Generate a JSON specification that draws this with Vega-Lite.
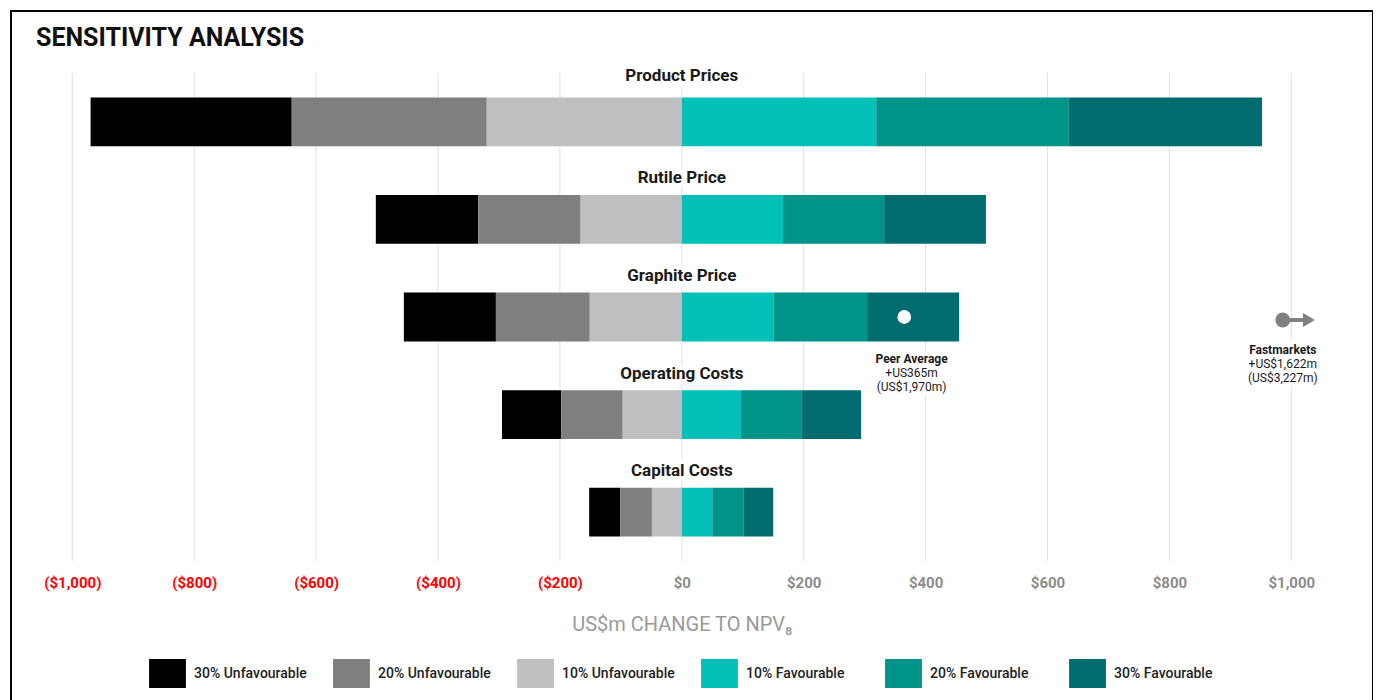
{
  "$schema": "https://vega.github.io/schema/vega-lite/v6.json",
  "width": 1362,
  "height": 700,
  "autosize": {"type": "none"},
  "padding": {"left": 11, "top": 11, "right": 0, "bottom": 0},
  "background": "white",
  "view": {"stroke": "#000000", "strokeWidth": 2},
  "title": {
    "text": "SENSITIVITY ANALYSIS",
    "anchor": "start",
    "frame": "group",
    "offset": -60,
    "dx": 25,
    "baseline": "alphabetic",
    "font": "Roboto",
    "fontSize": 25,
    "fontWeight": "bold",
    "color": "#111111"
  },
  "datasets": {
    "ticks": [
      {"v": -1000}, {"v": -800}, {"v": -600}, {"v": -400}, {"v": -200}, {"v": 0},
      {"v": 200}, {"v": 400}, {"v": 600}, {"v": 800}, {"v": 1000}
    ],
    "bars": [
      {"cat": "Product Prices", "seg": "30% Unfavourable", "start": -970, "end": -640},
      {"cat": "Product Prices", "seg": "20% Unfavourable", "start": -640, "end": -320},
      {"cat": "Product Prices", "seg": "10% Unfavourable", "start": -320, "end": 0},
      {"cat": "Product Prices", "seg": "10% Favourable", "start": 0, "end": 319},
      {"cat": "Product Prices", "seg": "20% Favourable", "start": 319, "end": 635},
      {"cat": "Product Prices", "seg": "30% Favourable", "start": 635, "end": 952},
      {"cat": "Rutile Price", "seg": "30% Unfavourable", "start": -502, "end": -334},
      {"cat": "Rutile Price", "seg": "20% Unfavourable", "start": -334, "end": -166},
      {"cat": "Rutile Price", "seg": "10% Unfavourable", "start": -166, "end": 0},
      {"cat": "Rutile Price", "seg": "10% Favourable", "start": 0, "end": 166},
      {"cat": "Rutile Price", "seg": "20% Favourable", "start": 166, "end": 332},
      {"cat": "Rutile Price", "seg": "30% Favourable", "start": 332, "end": 499},
      {"cat": "Graphite Price", "seg": "30% Unfavourable", "start": -456, "end": -305},
      {"cat": "Graphite Price", "seg": "20% Unfavourable", "start": -305, "end": -151},
      {"cat": "Graphite Price", "seg": "10% Unfavourable", "start": -151, "end": 0},
      {"cat": "Graphite Price", "seg": "10% Favourable", "start": 0, "end": 151},
      {"cat": "Graphite Price", "seg": "20% Favourable", "start": 151, "end": 304},
      {"cat": "Graphite Price", "seg": "30% Favourable", "start": 304, "end": 455},
      {"cat": "Operating Costs", "seg": "30% Unfavourable", "start": -295, "end": -198},
      {"cat": "Operating Costs", "seg": "20% Unfavourable", "start": -198, "end": -97},
      {"cat": "Operating Costs", "seg": "10% Unfavourable", "start": -97, "end": 0},
      {"cat": "Operating Costs", "seg": "10% Favourable", "start": 0, "end": 97},
      {"cat": "Operating Costs", "seg": "20% Favourable", "start": 97, "end": 196},
      {"cat": "Operating Costs", "seg": "30% Favourable", "start": 196, "end": 294},
      {"cat": "Capital Costs", "seg": "30% Unfavourable", "start": -152, "end": -101},
      {"cat": "Capital Costs", "seg": "20% Unfavourable", "start": -101, "end": -49},
      {"cat": "Capital Costs", "seg": "10% Unfavourable", "start": -49, "end": 0},
      {"cat": "Capital Costs", "seg": "10% Favourable", "start": 0, "end": 50},
      {"cat": "Capital Costs", "seg": "20% Favourable", "start": 50, "end": 101},
      {"cat": "Capital Costs", "seg": "30% Favourable", "start": 101, "end": 150}
    ],
    "topcat": [
      {"cat": "Product Prices", "x": 0}
    ],
    "cats": [
      {"cat": "Rutile Price", "x": 0},
      {"cat": "Graphite Price", "x": 0},
      {"cat": "Operating Costs", "x": 0},
      {"cat": "Capital Costs", "x": 0}
    ],
    "peer": [{"cat": "Graphite Price", "x": 365}],
    "fast": [{"cat": "Graphite Price", "x": 986, "x2": 1024, "tip": 1029}],
    "peernote": [{"cat": "Graphite Price", "x": 377, "head": "Peer Average", "body": ["+US365m", "(US$1,970m)"]}],
    "fastnote": [{"cat": "Graphite Price", "x": 986, "head": "Fastmarkets", "body": ["+US$1,622m", "(US$3,227m)"]}]
  },
  "resolve": {"scale": {"y": "independent"}},
  "layer": [
    {
      "data": {"name": "ticks"},
      "mark": {"type": "rule", "color": "#e1e1e1", "strokeWidth": 1},
      "encoding": {
        "x": {"field": "v", "type": "quantitative"},
        "y": {"datum": 0, "type": "quantitative", "scale": {"domain": [0, 1], "range": [62, 550], "nice": false, "zero": false}, "axis": null},
        "y2": {"datum": 1}
      }
    },
    {
      "layer": [
        {
          "data": {"name": "bars"},
          "mark": {"type": "bar"},
          "encoding": {
            "y": {
              "field": "cat",
              "type": "nominal",
              "scale": {
                "domain": ["Product Prices", "Rutile Price", "Graphite Price", "Operating Costs", "Capital Costs"],
                "range": [62, 550],
                "paddingInner": 0.5,
                "paddingOuter": 0.25
              },
              "axis": null
            },
            "x": {
              "field": "start",
              "type": "quantitative",
              "scale": {"domain": [-1000, 1000], "range": [61.3, 1280.3], "nice": false, "zero": false},
              "axis": {
                "values": [-1000, -800, -600, -400, -200, 0, 200, 400, 600, 800, 1000],
                "offset": -140,
                "domain": false,
                "ticks": false,
                "tickSize": 0,
                "grid": false,
                "labelPadding": 4,
                "labelFont": "Roboto",
                "labelFontSize": 15,
                "labelFontWeight": "bold",
                "labelFlush": false,
                "labelOverlap": false,
                "labelExpr": "datum.value < 0 ? '($' + format(-datum.value, ',') + ')' : '$' + format(datum.value, ',')",
                "labelColor": {"condition": {"test": "datum.value < 0", "value": "#ff0000"}, "value": "#8c8c8c"},
                "title": "US$m CHANGE TO NPV₈",
                "titleFont": "Roboto",
                "titleFontSize": 20,
                "titleFontWeight": "normal",
                "titleColor": "#9a9a9a",
                "titleY": 53,
                "titleBaseline": "middle"
              }
            },
            "x2": {"field": "end"},
            "color": {
              "field": "seg",
              "type": "nominal",
              "scale": {
                "domain": ["30% Unfavourable", "20% Unfavourable", "10% Unfavourable", "10% Favourable", "20% Favourable", "30% Favourable"],
                "range": ["#000000", "#7f7f7f", "#bfbfbf", "#00c0b8", "#00938a", "#006c70"]
              },
              "legend": {
                "orient": "none",
                "legendX": 142,
                "legendY": 648,
                "direction": "horizontal",
                "columns": 6,
                "gridAlign": "all",
                "columnPadding": 26,
                "padding": 0,
                "title": null,
                "symbolType": "M-1.27,-1H1.27V1H-1.27Z",
                "symbolSize": 841,
                "symbolStrokeWidth": 0,
                "symbolOpacity": 1,
                "labelOffset": 12,
                "labelFont": "Roboto",
                "labelFontSize": 14,
                "labelFontWeight": 500,
                "labelColor": "#222222",
                "labelLimit": 300
              }
            }
          }
        },
        {
          "data": {"name": "topcat"},
          "mark": {"type": "text", "dy": -41, "baseline": "alphabetic", "font": "Roboto", "fontSize": 17, "fontWeight": "bold", "stroke": "white", "strokeWidth": 10, "strokeJoin": "round", "fill": "white"},
          "encoding": {
            "y": {"field": "cat", "type": "nominal"},
            "x": {"field": "x", "type": "quantitative"},
            "text": {"field": "cat"}
          }
        },
        {
          "data": {"name": "topcat"},
          "mark": {"type": "text", "dy": -41, "baseline": "alphabetic", "font": "Roboto", "fontSize": 17, "fontWeight": "bold", "fill": "#1a1a1a"},
          "encoding": {
            "y": {"field": "cat", "type": "nominal"},
            "x": {"field": "x", "type": "quantitative"},
            "text": {"field": "cat"}
          }
        },
        {
          "data": {"name": "cats"},
          "mark": {"type": "text", "dy": -36, "baseline": "alphabetic", "font": "Roboto", "fontSize": 17, "fontWeight": "bold", "stroke": "white", "strokeWidth": 10, "strokeJoin": "round", "fill": "white"},
          "encoding": {
            "y": {"field": "cat", "type": "nominal"},
            "x": {"field": "x", "type": "quantitative"},
            "text": {"field": "cat"}
          }
        },
        {
          "data": {"name": "cats"},
          "mark": {"type": "text", "dy": -36, "baseline": "alphabetic", "font": "Roboto", "fontSize": 17, "fontWeight": "bold", "fill": "#1a1a1a"},
          "encoding": {
            "y": {"field": "cat", "type": "nominal"},
            "x": {"field": "x", "type": "quantitative"},
            "text": {"field": "cat"}
          }
        },
        {
          "data": {"name": "peer"},
          "mark": {"type": "point", "shape": "circle", "filled": true, "fill": "#ffffff", "opacity": 1, "size": 190, "strokeWidth": 0},
          "encoding": {
            "y": {"field": "cat", "type": "nominal"},
            "x": {"field": "x", "type": "quantitative"}
          }
        },
        {
          "data": {"name": "fast"},
          "mark": {"type": "rule", "color": "#808080", "strokeWidth": 4},
          "encoding": {
            "y": {"field": "cat", "type": "nominal"},
            "yOffset": {"value": 27.4},
            "x": {"field": "x", "type": "quantitative"},
            "x2": {"field": "x2"}
          }
        },
        {
          "data": {"name": "fast"},
          "mark": {"type": "point", "shape": "triangle-right", "filled": true, "fill": "#808080", "opacity": 1, "size": 190, "strokeWidth": 0},
          "encoding": {
            "y": {"field": "cat", "type": "nominal"},
            "yOffset": {"value": 27.4},
            "x": {"field": "tip", "type": "quantitative"}
          }
        },
        {
          "data": {"name": "fast"},
          "mark": {"type": "point", "shape": "circle", "filled": true, "fill": "#808080", "opacity": 1, "size": 220, "strokeWidth": 0},
          "encoding": {
            "y": {"field": "cat", "type": "nominal"},
            "yOffset": {"value": 27.4},
            "x": {"field": "x", "type": "quantitative"}
          }
        },
        {
          "data": {"name": "peernote"},
          "mark": {"type": "text", "dy": 46, "baseline": "alphabetic", "font": "Roboto", "fontSize": 12, "fontWeight": "bold", "fill": "white", "stroke": "white", "strokeWidth": 10, "strokeJoin": "round"},
          "encoding": {
            "y": {"field": "cat", "type": "nominal"},
            "x": {"field": "x", "type": "quantitative"},
            "text": {"field": "head"}
          }
        },
        {
          "data": {"name": "peernote"},
          "mark": {"type": "text", "dy": 60, "baseline": "alphabetic", "font": "Roboto", "fontSize": 12, "lineHeight": 14, "fill": "white", "stroke": "white", "strokeWidth": 10, "strokeJoin": "round"},
          "encoding": {
            "y": {"field": "cat", "type": "nominal"},
            "x": {"field": "x", "type": "quantitative"},
            "text": {"field": "body"}
          }
        },
        {
          "data": {"name": "fastnote"},
          "mark": {"type": "text", "dy": 37, "baseline": "alphabetic", "font": "Roboto", "fontSize": 12, "fontWeight": "bold", "fill": "white", "stroke": "white", "strokeWidth": 10, "strokeJoin": "round"},
          "encoding": {
            "y": {"field": "cat", "type": "nominal"},
            "x": {"field": "x", "type": "quantitative"},
            "text": {"field": "head"}
          }
        },
        {
          "data": {"name": "fastnote"},
          "mark": {"type": "text", "dy": 51, "baseline": "alphabetic", "font": "Roboto", "fontSize": 12, "lineHeight": 14, "fill": "white", "stroke": "white", "strokeWidth": 10, "strokeJoin": "round"},
          "encoding": {
            "y": {"field": "cat", "type": "nominal"},
            "x": {"field": "x", "type": "quantitative"},
            "text": {"field": "body"}
          }
        },
        {
          "data": {"name": "peernote"},
          "mark": {"type": "text", "dy": 46, "baseline": "alphabetic", "font": "Roboto", "fontSize": 12, "fontWeight": "bold", "fill": "#1a1a1a"},
          "encoding": {
            "y": {"field": "cat", "type": "nominal"},
            "x": {"field": "x", "type": "quantitative"},
            "text": {"field": "head"}
          }
        },
        {
          "data": {"name": "peernote"},
          "mark": {"type": "text", "dy": 60, "baseline": "alphabetic", "font": "Roboto", "fontSize": 12, "lineHeight": 14, "fill": "#1a1a1a"},
          "encoding": {
            "y": {"field": "cat", "type": "nominal"},
            "x": {"field": "x", "type": "quantitative"},
            "text": {"field": "body"}
          }
        },
        {
          "data": {"name": "fastnote"},
          "mark": {"type": "text", "dy": 37, "baseline": "alphabetic", "font": "Roboto", "fontSize": 12, "fontWeight": "bold", "fill": "#1a1a1a"},
          "encoding": {
            "y": {"field": "cat", "type": "nominal"},
            "x": {"field": "x", "type": "quantitative"},
            "text": {"field": "head"}
          }
        },
        {
          "data": {"name": "fastnote"},
          "mark": {"type": "text", "dy": 51, "baseline": "alphabetic", "font": "Roboto", "fontSize": 12, "lineHeight": 14, "fill": "#1a1a1a"},
          "encoding": {
            "y": {"field": "cat", "type": "nominal"},
            "x": {"field": "x", "type": "quantitative"},
            "text": {"field": "body"}
          }
        }
      ]
    }
  ]
}
